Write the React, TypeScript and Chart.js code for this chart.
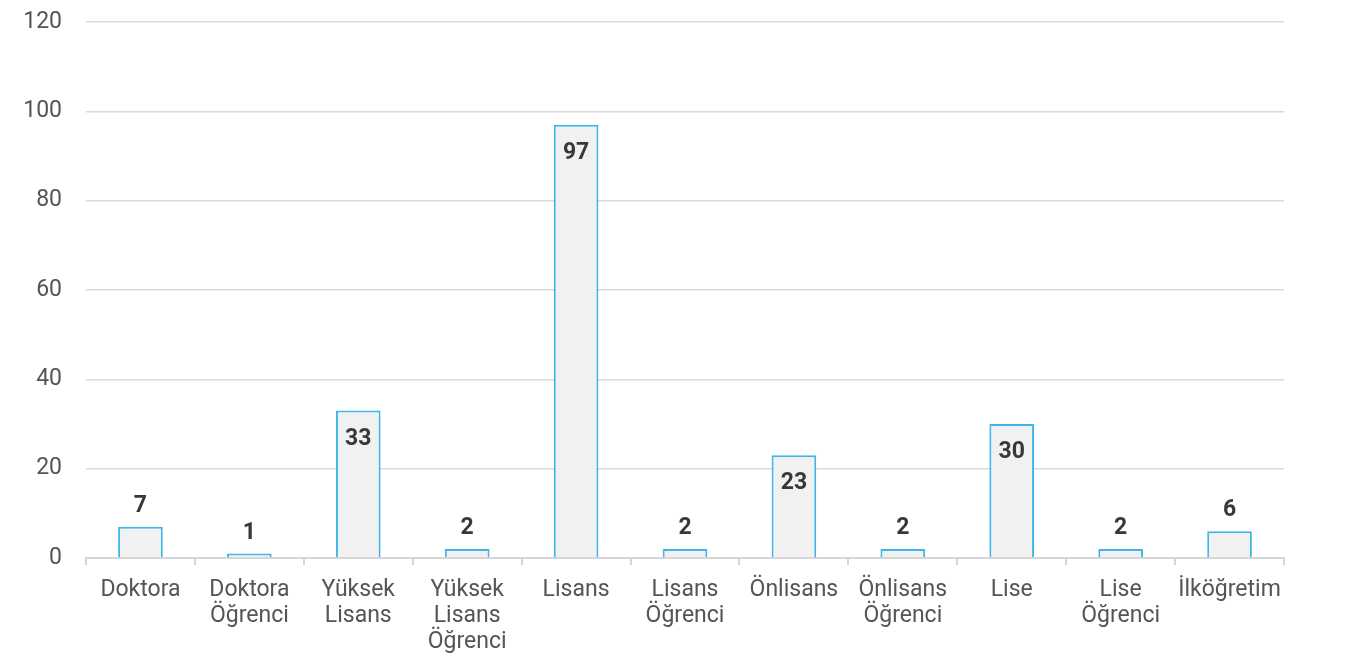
import React, { useEffect, useRef } from "react";
import { Chart, registerables } from "chart.js";

Chart.register(...registerables);

const categories: (string | string[])[] = [
  "Doktora",
  ["Doktora", "Öğrenci"],
  ["Yüksek", "Lisans"],
  ["Yüksek", "Lisans", "Öğrenci"],
  "Lisans",
  ["Lisans", "Öğrenci"],
  "Önlisans",
  ["Önlisans", "Öğrenci"],
  "Lise",
  ["Lise", "Öğrenci"],
  "İlköğretim",
];
const values: number[] = [7, 1, 33, 2, 97, 2, 23, 2, 30, 2, 6];
const yTicks: number[] = [0, 20, 40, 60, 80, 100, 120];

const FONT = "Roboto, 'Noto Sans', sans-serif";

const valueLabels = {
  id: "valueLabels",
  afterDatasetsDraw(chart: any) {
    const ctx = chart.ctx;
    const meta = chart.getDatasetMeta(0);
    ctx.save();
    ctx.font = `bold 23px ${FONT}`;
    ctx.fillStyle = "#383838";
    ctx.textAlign = "center";
    ctx.textBaseline = "alphabetic";
    meta.data.forEach((bar: any, i: number) => {
      const v = values[i];
      if (v >= 20) {
        ctx.fillText(String(v), bar.x, bar.y + 34);
      } else {
        ctx.fillText(String(v), bar.x, bar.y - 15);
      }
    });
    ctx.restore();
  },
};

export default function App() {
  const ref = useRef<HTMLCanvasElement | null>(null);
  useEffect(() => {
    document.body.style.margin = "0";
    const chart = new Chart(ref.current!, {
      type: "bar",
      data: {
        labels: categories,
        datasets: [
          {
            data: values,
            backgroundColor: "#f1f1f1",
            borderColor: "#3fb6e8",
            borderWidth: 2,
            categoryPercentage: 1,
            barPercentage: 0.41,
          },
        ],
      },
      options: {
        animation: false,
        responsive: false,
        maintainAspectRatio: false,
        layout: { padding: { left: 0, right: 69, top: 0, bottom: 0 } },
        plugins: {
          legend: { display: false },
          tooltip: { enabled: false },
        },
        scales: {
          x: {
            offset: true,
            afterFit(axis: any) {
              axis.height = 103;
            },
            grid: {
              offset: true,
              drawOnChartArea: false,
              drawTicks: true,
              tickLength: 7,
              color: "#d6d6d6",
              lineWidth: 2,
            },
            border: { display: true, color: "#d6d6d6", width: 2 },
            ticks: {
              color: "#555555",
              font: { family: FONT, size: 23, lineHeight: 1.13 },
              maxRotation: 0,
              autoSkip: false,
              padding: 12,
            },
          },
          y: {
            min: 0,
            max: 120,
            afterBuildTicks(axis: any) {
              axis.ticks = yTicks.map((v) => ({ value: v }));
            },
            afterFit(axis: any) {
              axis.width = 86;
              axis.paddingTop = 22;
              axis.paddingBottom = 0;
            },
            grid: { color: "#d9d9d9", drawTicks: false, lineWidth: 1.5 },
            border: { display: false },
            ticks: {
              color: "#555555",
              font: { family: FONT, size: 23, lineHeight: 1.0 },
              padding: 24,
            },
          },
        },
      },
      plugins: [valueLabels],
    });
    return () => chart.destroy();
  }, []);
  return (
    <div style={{ width: 1353, height: 661 }}>
      <canvas ref={ref} width={1353} height={661} style={{ display: "block" }} />
    </div>
  );
}
